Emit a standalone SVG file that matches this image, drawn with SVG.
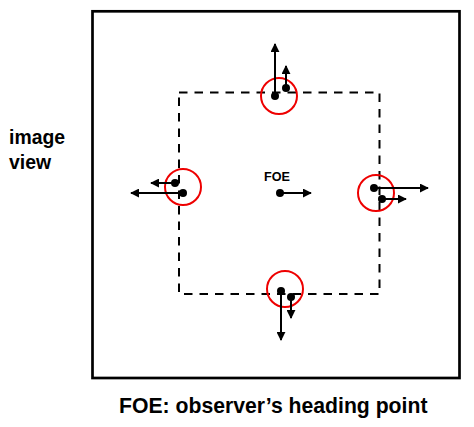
<svg xmlns="http://www.w3.org/2000/svg" width="474" height="427" viewBox="0 0 474 427">
<style>
.t{font-family:"Liberation Sans",Arial,sans-serif;font-weight:bold;fill:#000}
.ln{stroke:#000;stroke-width:2;fill:none}
.dot{fill:#000}
.ring{fill:none;stroke:#e00;stroke-width:2}
</style>
<defs>
<marker id="ah" viewBox="0 0 10 10" refX="9" refY="5" markerWidth="9" markerHeight="9" markerUnits="userSpaceOnUse" orient="auto">
<path d="M0,0 L10,5 L0,10 z" fill="#000"/>
</marker>
</defs>
<rect x="92.5" y="11.3" width="367" height="366.7" fill="#fff" stroke="#000" stroke-width="2.7"/>
<rect id="region" x="179" y="92.5" width="200.5" height="201.5" fill="none" stroke="#000" stroke-width="2" stroke-dasharray="8.5,7"/>
<text class="t" x="9" y="144" font-size="19.4">image</text>
<text class="t" x="9" y="169" font-size="19.4">view</text>
<g id="top">
<circle class="ring" cx="279" cy="96" r="18"/>
</g>
<g id="left">
<circle class="ring" cx="183" cy="187" r="18"/>
</g>
<g id="right">
<circle class="ring" cx="376" cy="193" r="18"/>
</g>
<g id="bottom">
<circle class="ring" cx="285" cy="289" r="18"/>
</g>
<g id="connectors">
<line class="ln" x1="275" y1="96" x2="275" y2="44" marker-end="url(#ah)"/>
<line class="ln" x1="286" y1="88" x2="286" y2="66" marker-end="url(#ah)"/>
<line class="ln" x1="175" y1="183" x2="151" y2="183" marker-end="url(#ah)"/>
<line class="ln" x1="183" y1="193" x2="131" y2="193" marker-end="url(#ah)"/>
<line class="ln" x1="374" y1="188" x2="428" y2="188" marker-end="url(#ah)"/>
<line class="ln" x1="382" y1="199" x2="406" y2="199" marker-end="url(#ah)"/>
<line class="ln" x1="281" y1="291" x2="281" y2="340" marker-end="url(#ah)"/>
<line class="ln" x1="291" y1="297" x2="291" y2="318" marker-end="url(#ah)"/>
<line class="ln" x1="280" y1="193" x2="311" y2="193" marker-end="url(#ah)"/>
</g>
<g id="dots">
<circle class="dot" cx="275" cy="96" r="4"/>
<circle class="dot" cx="286" cy="88" r="4"/>
<circle class="dot" cx="175" cy="183" r="4"/>
<circle class="dot" cx="183" cy="193" r="4"/>
<circle class="dot" cx="374" cy="188" r="4"/>
<circle class="dot" cx="382" cy="199" r="4"/>
<circle class="dot" cx="281" cy="291" r="4"/>
<circle class="dot" cx="291" cy="297" r="4"/>
</g>
<g id="foe">
<circle class="dot" cx="280" cy="193" r="4"/>
<text class="t" x="264" y="181" font-size="12.6">FOE</text>
</g>
<text class="t" x="119" y="413" font-size="21.2">FOE: observer’s heading point</text>
</svg>
